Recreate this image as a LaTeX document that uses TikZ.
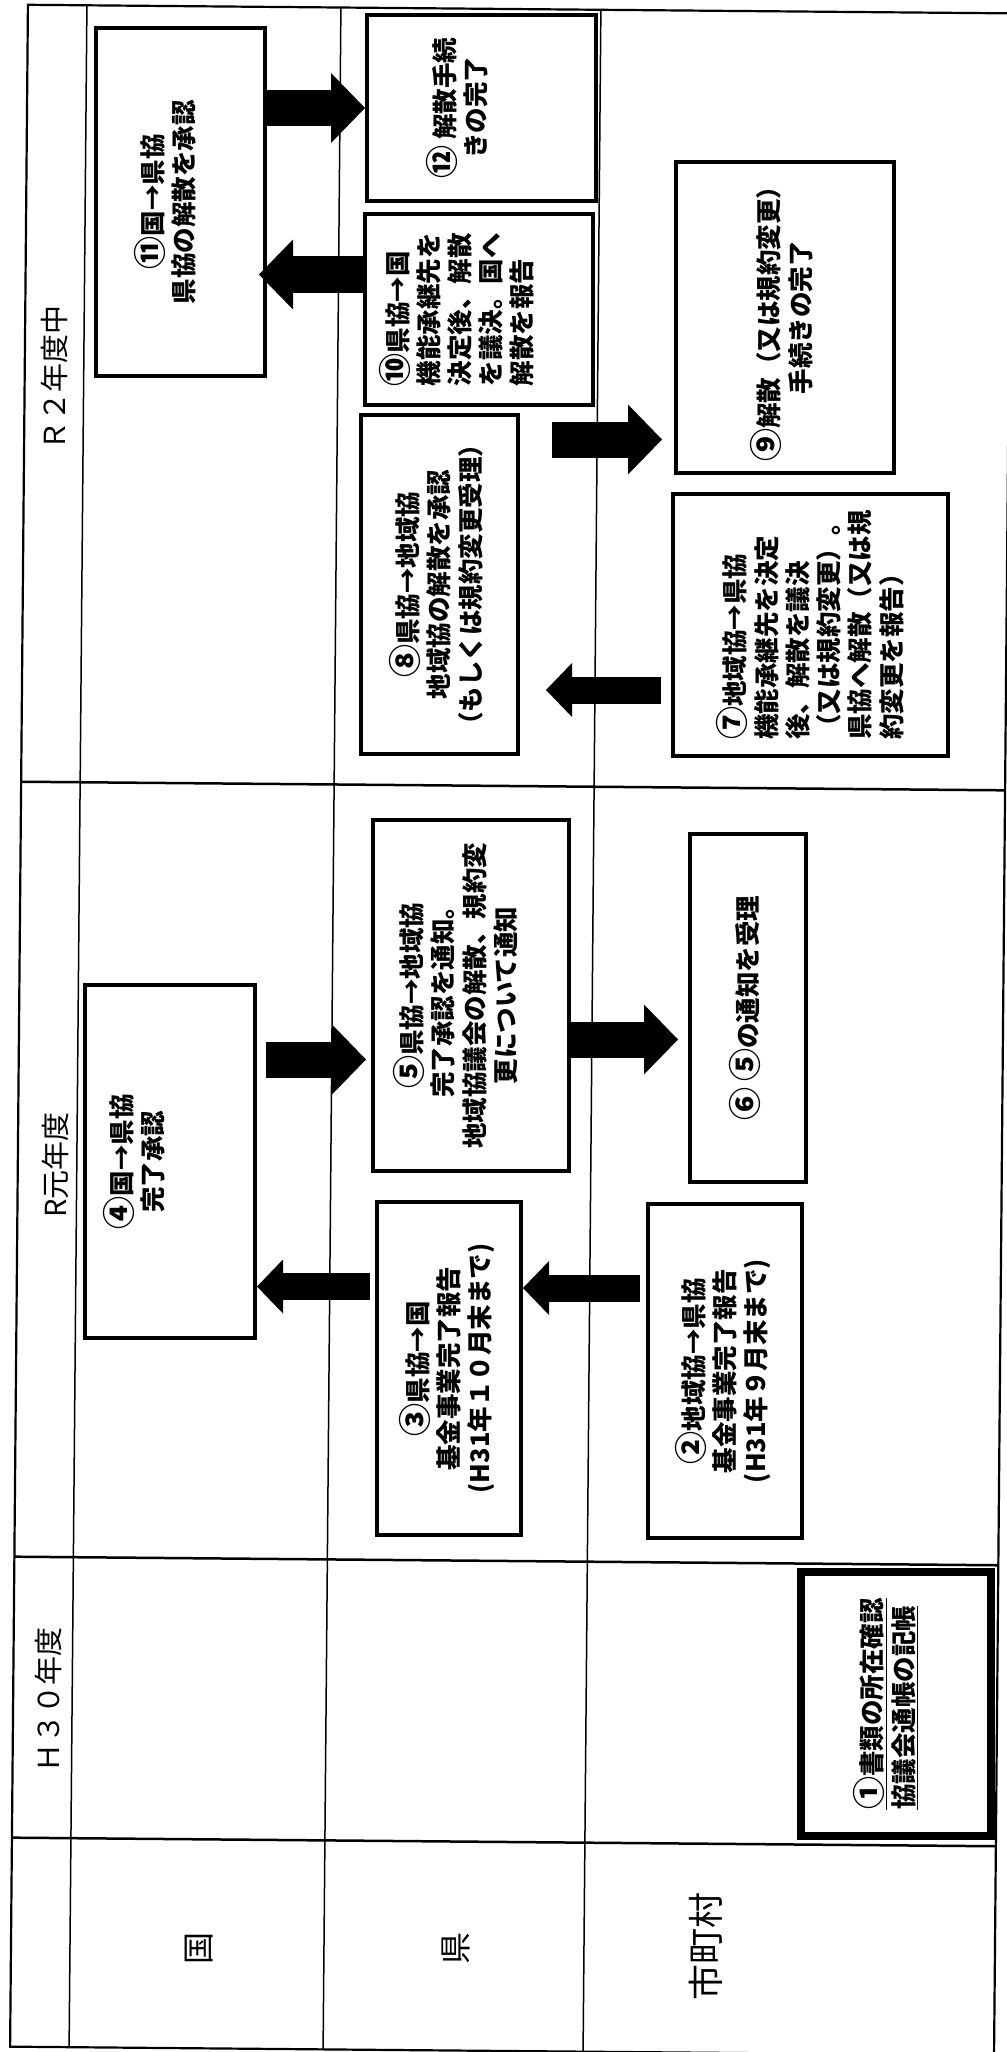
\documentclass[tikz,border=0pt]{standalone}
\usepackage{fontspec}
\usepackage{graphicx}
\newfontfamily\jpfont{Noto Sans CJK JP}
\usetikzlibrary{arrows.meta,positioning}
\newcommand{\vtxt}[2][c]{\rotatebox{90}{\begin{tabular}{@{}#1@{}}#2\end{tabular}}}
\newcommand{\cn}[1]{{\fontsize{33}{31}\selectfont#1}}

\tikzset{
  stepbox/.style={draw,line width=4pt,inner sep=0pt},
  steptxt/.style={font=\jpfont\bfseries\fontsize{25.5}{31}\selectfont,inner sep=0pt},
  hdr/.style={font=\jpfont\fontsize{29}{30}\selectfont,rotate=90,inner sep=0pt},
  bigarrow/.style={line width=36pt,-{Triangle[length=34pt,width=70pt,line width=0pt]}},
  smallarrow/.style={line width=27pt,-{Triangle[length=26pt,width=54pt,line width=0pt]}}
}

\begin{document}
\begin{tikzpicture}[x=1pt,y=-1pt]
\useasboundingbox (0,0) rectangle (1006,2052);

% table grid (scan is slightly turned)
\begin{scope}[rotate around={-0.5:(510,1028)}]
\draw[line width=2.2pt] (19,9) rectangle (1003,2051);
\foreach \yy in {786,1561,1842} \draw[line width=2.5pt] (19,\yy) -- (1003,\yy);
\foreach \xx in {78,332,592} \draw[line width=1.5pt] (\xx,9) -- (\xx,2051);
\end{scope}

% headers
\node[hdr] (hR2) at (54,378) {Ｒ２年度中};
\node[hdr] (hR1) at (55,1165) {R元年度};
\node[hdr] (hH30) at (48,1700) {Ｈ３０年度};
\node[hdr,font=\jpfont\fontsize{32}{34}\selectfont] (kuni) at (199,1948) {国};
\node[hdr,font=\jpfont\fontsize{32}{34}\selectfont] (ken) at (456,1948) {県};
\node[hdr,font=\jpfont\fontsize{36}{38}\selectfont] (shi) at (706,1946) {市町村};

% steps
\node[stepbox,minimum width=169pt,minimum height=348pt] (s11) at (180.5,202) {};
\node[steptxt] (t11) at ([xshift=-12pt]s11.center) {\vtxt{\cn{⑪}国→県協\\県協の解散を承認}};
\node[stepbox,minimum width=229pt,minimum height=186pt] (s12) at (481.5,108) {};
\node[steptxt] (t12) at ([xshift=-21pt]s12.center) {\vtxt{\cn{⑫} 解散手続\\きの完了}};
\node[stepbox,minimum width=228pt,minimum height=191pt] (s10) at (479,309.5) {};
\node[steptxt] (t10) at ([xshift=-19pt]s10.center) {\vtxt[l]{\cn{⑩}県協→国\\機能承継先を\\決定後、解散\\を議決。国へ\\解散を報告}};
\node[stepbox,minimum width=157pt,minimum height=339pt] (s8) at (439.5,584.5) {};
\node[steptxt] (t8) at (s8.center) {\vtxt{\cn{⑧}県協→地域協\\地域協の解散を承認\\（もしくは規約変更受理）}};
\node[stepbox,minimum width=218pt,minimum height=311pt] (s9) at (785,317.5) {};
\node[steptxt] (t9) at (s9.center) {\vtxt{\cn{⑨}解散（又は規約変更）\\手続きの完了}};
\node[stepbox,minimum width=275pt,minimum height=262pt] (s7) at (810.5,625) {};
\node[steptxt] (t7) at ([xshift=3pt]s7.center) {\vtxt[l]{\cn{⑦}地域協→県協\\機能承継先を決定\\後、解散を議決\\（又は規約変更）。\\県協へ解散（又は規\\約変更を報告）}};
\node[stepbox,minimum width=170pt,minimum height=353pt] (s4) at (170,1161.5) {};
\node[steptxt] (t4) at ([xshift=-32pt]s4.center) {\vtxt{\cn{④}国→県協\\完了承認}};
\node[stepbox,minimum width=196pt,minimum height=351pt] (s5) at (471,995.5) {};
\node[steptxt] (t5) at ([xshift=-12pt]s5.center) {\vtxt{\cn{⑤}県協→地域協\\完了承認を通知。\\地域協議会の解散、規約変\\更について通知}};
\node[stepbox,minimum width=116pt,minimum height=348pt] (s6) at (748,1008) {};
\node[steptxt] (t6) at (s6.center) {\vtxt{\cn{⑥} \cn{⑤}の通知を受理}};
\node[stepbox,minimum width=144pt,minimum height=333pt] (s3) at (449,1368.5) {};
\node[steptxt] (t3) at (s3.center) {\vtxt{\cn{③}県協→国\\基金事業完了報告\\(H31年１０月末まで)}};
\node[stepbox,minimum width=154pt,minimum height=334pt] (s2) at (725,1371) {};
\node[steptxt] (t2) at (s2.center) {\vtxt{\cn{②}地域協→県協\\基金事業完了報告\\(H31年９月末まで)}};
\node[stepbox,line width=8pt,minimum width=190pt,minimum height=264pt] (s1) at (896,1704) {};
\node[steptxt] (t1) at ([xshift=-8pt]s1.center) {\vtxt[l]{\underline{\cn{①}書類の所在確認}\\\underline{協議会通帳の記帳}}};

% flow
\draw[bigarrow] (s11.east |- s12.west) -- (s12.west);
\draw[bigarrow,shorten >=-8pt] ([yshift=35pt]s10.west) -- ([yshift=35pt]s10.west -| s11.east);
\draw[bigarrow,shorten <=32pt,shorten >=12pt] ([yshift=145pt]s8.east) -- ([yshift=145pt]s8.east -| s9.west);
\draw[smallarrow,shorten <=10pt,shorten >=26pt] ([yshift=-65pt]s7.west) -- ([yshift=-65pt]s7.west -| s8.east);
\draw[bigarrow,shorten <=9pt,shorten >=5pt] ([yshift=102pt]s4.east) -- ([yshift=102pt]s4.east -| s5.west);
\draw[bigarrow,shorten >=10pt] ([yshift=-44pt]s5.east) -- ([yshift=-44pt]s5.east -| s6.west);
\draw[smallarrow,shorten <=5pt] ([yshift=82pt]s3.west) -- ([yshift=82pt]s3.west -| s4.east);
\draw[smallarrow,shorten <=6pt] ([yshift=83pt]s2.west) -- ([yshift=83pt]s2.west -| s3.east);

\end{tikzpicture}
\end{document}
